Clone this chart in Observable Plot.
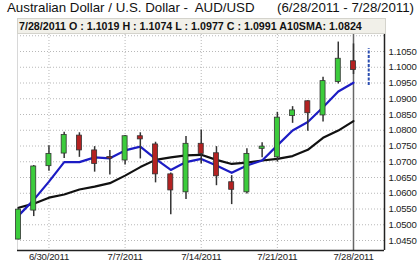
<!DOCTYPE html>
<html>
<head>
<meta charset="utf-8">
<script src="https://cdn.jsdelivr.net/npm/d3@7"></script>
<script src="https://cdn.jsdelivr.net/npm/@observablehq/plot@0.6"></script>
<style>
  html, body { margin: 0; padding: 0; background: #fff; }
  #wrap { position: relative; width: 418px; height: 264px; overflow: hidden; font-family: "Liberation Sans", Arial, sans-serif; }
  #title { position: relative; height: 18px; font-size: 13.3px; color: #111; white-space: pre; }
  #title span { position: absolute; top: 0px; line-height: 16px; }
  #bar { position: absolute; left: 17px; top: 18px; width: 366px; height: 14px; background: #f1f0e9; border: 1px solid #d4d3cc; font-size: 10.7px; font-weight: bold; color: #111; line-height: 15px; padding-left: 1px; white-space: pre; box-sizing: content-box; }
  svg { display: block; }
  svg text { letter-spacing: -0.2px; }
</style>
</head>
<body>
<div id="wrap">
  <div id="title"><span style="left:7px">Australian Dollar / U.S. Dollar -  AUD/USD</span><span style="left:277px">(6/28/2011 - 7/28/2011)</span></div>
  <div id="chart"></div>
  <div id="bar">7/28/2011 O : 1.1019 H : 1.1074 L : 1.0977 C : 1.0991 A10SMA: 1.0824</div>
</div>
<script>
const dates = ["6/28/2011","6/29/2011","6/30/2011","7/1/2011","7/4/2011","7/5/2011","7/6/2011","7/7/2011","7/8/2011","7/11/2011","7/12/2011","7/13/2011","7/14/2011","7/15/2011","7/18/2011","7/19/2011","7/20/2011","7/21/2011","7/22/2011","7/25/2011","7/26/2011","7/27/2011","7/28/2011"];
const open  = [1.0453,1.0545,1.0686,1.0726,1.0783,1.0736,1.0715,1.0704,1.0781,1.0755,1.0660,1.0603,1.0757,1.0727,1.0635,1.0603,1.0741,1.0714,1.0845,1.0892,1.0847,1.0953,1.1019];
const high  = [1.0552,1.0688,1.0751,1.0794,1.0792,1.0748,1.0736,1.0783,1.0792,1.0762,1.0664,1.0780,1.0801,1.0748,1.0656,1.0741,1.0760,1.0857,1.0875,1.0894,1.0968,1.1080,1.1074];
const low   = [1.0452,1.0526,1.0670,1.0710,1.0714,1.0667,1.0658,1.0690,1.0709,1.0633,1.0532,1.0580,1.0693,1.0624,1.0564,1.0598,1.0713,1.0699,1.0822,1.0797,1.0826,1.0947,1.0977];
const close = [1.0548,1.0685,1.0725,1.0785,1.0736,1.0693,1.0710,1.0781,1.0771,1.0660,1.0609,1.0757,1.0725,1.0654,1.0611,1.0725,1.0748,1.0840,1.0863,1.0854,1.0956,1.1027,1.0991];
const fastMA = [1.0529,1.0579,1.0637,1.0699,1.0699,1.0714,1.0711,1.0736,1.0748,1.0709,1.0674,1.0699,1.0709,1.0688,1.0665,1.0688,1.0704,1.0752,1.0799,1.0826,1.0873,1.0923,1.0951];
const sma10 = [1.0554,1.0567,1.0586,1.0596,1.0612,1.0621,1.0632,1.0656,1.0683,1.0706,1.0714,1.0720,1.0722,1.0706,1.0693,1.0697,1.0704,1.0709,1.0718,1.0738,1.0776,1.0799,1.0829];
const tickDates = ["6/30/2011","7/7/2011","7/14/2011","7/21/2011","7/28/2011"];
const yTicks = [1.045,1.050,1.055,1.060,1.065,1.070,1.075,1.080,1.085,1.090,1.095,1.100,1.105];
const yGrid = [1.045,1.050,1.055,1.060,1.065,1.070,1.075,1.080,1.085,1.090,1.095,1.100,1.105,1.110];
const projection = [{i: 23, hi: 1.1059, lo: 1.0942}];
const crosshairDate = "7/28/2011";

const data = dates.map((d, i) => ({i, date: d, open: open[i], high: high[i], low: low[i], close: close[i], fast: fastMA[i], sma: sma10[i], up: close[i] >= open[i]}));
const tickIdx = tickDates.map(d => dates.indexOf(d));
const xDomain = [-0.066, 24.036];
const yDomain = [1.04183, 1.11135];
const bw = 0.165;

const chart = Plot.plot({
  width: 418,
  height: 246,
  marginTop: 13,
  marginBottom: 14,
  marginLeft: 17,
  marginRight: 34,
  style: {fontFamily: "'Liberation Sans', Arial, sans-serif", fontSize: "9.6px", color: "#222", background: "#fff"},
  x: {domain: xDomain, ticks: tickIdx, tickFormat: i => dates[i], tickSize: 0, tickPadding: 3, label: null},
  y: {domain: yDomain, axis: "right", ticks: yTicks, tickFormat: d3.format(".4f"), tickSize: 0, tickPadding: 4, label: null},
  marks: [
    Plot.ruleY(yGrid, {stroke: "#b8b8b8", strokeDasharray: "1,2", strokeWidth: 1}),
    Plot.ruleX(tickIdx, {stroke: "#b8b8b8", strokeDasharray: "1,2", strokeWidth: 1}),
    Plot.ruleX([xDomain[0]], {stroke: "#d8d8d8"}),
    Plot.ruleX([dates.indexOf(crosshairDate)], {stroke: "#666", strokeWidth: 1.5}),
    Plot.line(data, {x: "i", y: "sma", stroke: "#111", strokeWidth: 2.2}),
    Plot.line(data, {x: "i", y: "fast", stroke: "#1c1cc4", strokeWidth: 2.2}),
    Plot.ruleX(data, {x: "i", y1: "low", y2: "high", stroke: "#333", strokeWidth: 1.5}),
    Plot.rect(data, {x1: d => d.i - bw, x2: d => d.i + bw, y1: "open", y2: "close", fill: d => d.up ? "#3ccc3c" : "#b42222", stroke: "#333", strokeWidth: 0.8}),
    Plot.ruleX(projection, {x: "i", y1: "lo", y2: "hi", stroke: "#2a4db0", strokeWidth: 2, strokeDasharray: "3,1.5"}),
    Plot.ruleY([yDomain[0]], {stroke: "#222", strokeWidth: 1.5}),
    Plot.ruleX([xDomain[1]], {stroke: "#222", strokeWidth: 1.5})
  ]
});
document.getElementById("chart").appendChild(chart);
</script>
</body>
</html>
